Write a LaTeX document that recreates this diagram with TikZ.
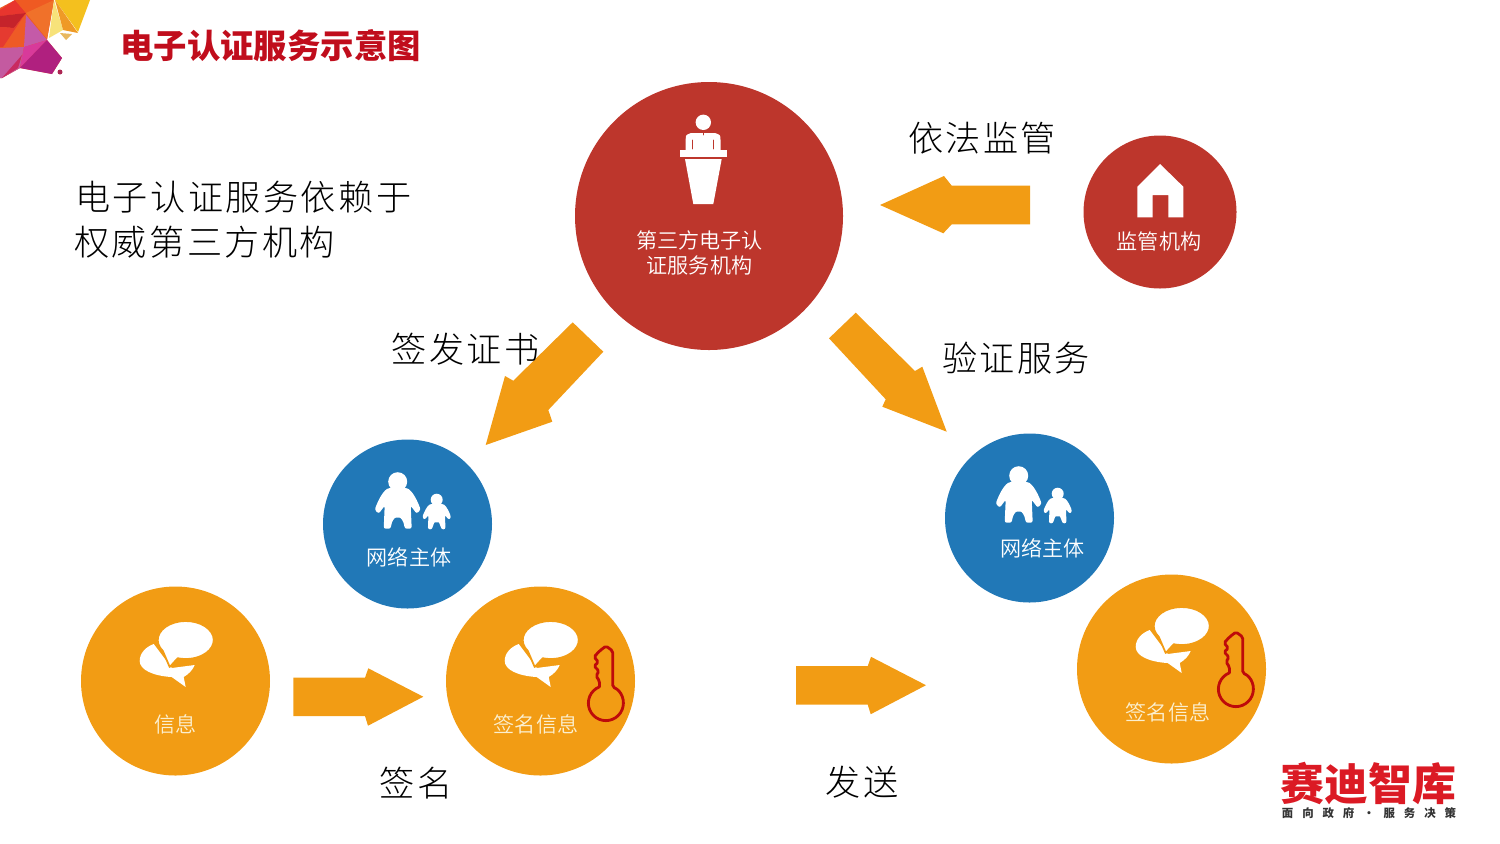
\documentclass[tikz,border=0pt]{standalone}
\usepackage{fontspec}
\usepackage{xcolor}
\usetikzlibrary{arrows.meta}
\setmainfont{Noto Sans CJK SC}
\newfontfamily\cjklight[LetterSpace=7]{Noto Sans CJK SC Light}
\newfontfamily\cjkinner{Noto Sans CJK SC DemiLight}
\newfontfamily\cjkwide[LetterSpace=78]{Noto Sans CJK SC}
\definecolor{sealred}{HTML}{BD362C}
\definecolor{netblue}{HTML}{2178B7}
\definecolor{signorange}{HTML}{F29C14}
\definecolor{keyred}{HTML}{BE0A0A}
\definecolor{titlered}{HTML}{C00D1C}
\definecolor{logored}{HTML}{DB1A24}
\definecolor{creamtext}{HTML}{FBEFCF}
\newcommand{\tile}[2]{\definecolor{tilecol}{HTML}{#1}\fill[tilecol] #2 -- cycle;}
\tikzset{
  bigdisc/.style={circle,inner sep=0pt,minimum size=#1*0.02cm},
  innertext/.style={inner sep=0pt,align=center,font=\fontsize{12}{14.5}\selectfont\cjkinner},
  labeltext/.style={inner sep=0pt,anchor=center,font=\fontsize{20}{24}\selectfont\cjklight},
  bodytext/.style={inner sep=0pt,anchor=west,font=\fontsize{20}{24}\selectfont\cjklight},
  person/.pic={
    \fill[white] (0,0) circle (9.5);
    \fill[white,rounded corners=1.2pt] (-9,6) .. controls (-16,11) and (-20,20) .. (-23,28)
      -- (-19,32) -- (-13,24) -- (-14,47) -- (-7,47) .. controls (-6,39) and (-3,36) .. (0,36)
      .. controls (3,36) and (6,39) .. (7,47) -- (14,47) -- (13,24) -- (19,32) -- (23,28)
      .. controls (20,20) and (16,11) .. (9,6) -- cycle;
  },
  family/.pic={
    \pic at (0,0) {person};
    \pic[scale=0.63] at (39,18) {person};
  },
  chat/.pic={
    \fill[white] (-32,4) .. controls (-40,7) and (-46,13) .. (-46,21)
      .. controls (-46,30) and (-32,36) .. (-14,37) -- (0,47) -- (-2,37)
      .. controls (3,34) and (7,30) .. (9,25) -- (-14,28) -- cycle;
    \filldraw[white,draw=signorange,line width=1pt] (-22.9,10.9)
      arc[start angle=145,delta angle=321.6,x radius=28,y radius=19] -- (-16,27) -- cycle;
  },
  brasskey/.pic={
    \draw[keyred,line width=1.6pt,rounded corners=1pt] (-6.5,-17) -- (-6.5,-23) -- (-10,-28) -- (-7,-33) -- (-12,-38) -- (-7.5,-42)
      -- (-12,-47) -- (-6.5,-53) -- (0,-58) -- (6.7,-53) -- (6.7,-17)
      arc[start angle=-67,delta angle=314,radius=17.5];
  },
}
\begin{document}
\begin{tikzpicture}[line cap=round,line join=round,x=0.02cm,y=-0.02cm]
\useasboundingbox (0,0) rectangle (1500,843);
% corner logo
\tile{EE5A26}{(0,8) -- (15,0) -- (54,0) -- (47,40) -- (62,58) -- (52,74) -- (20,68) -- (2,78) -- (0,78)}
\tile{E8352E}{(0,10) -- (15,0) -- (26,13) -- (0,16)}
\tile{C5232B}{(0,16) -- (26,13) -- (14,28) -- (0,27)}
\tile{E53A30}{(0,27) -- (14,28) -- (25,14) -- (3,47) -- (0,47)}
\tile{EF5A22}{(15,0) -- (54,0) -- (26,13)}
\tile{F0712A}{(26,13) -- (54,0) -- (47,39)}
\tile{C45AA8}{(26,15) -- (47,40) -- (24,47)}
\tile{F7E27A}{(54,0) -- (63,30) -- (49,38)}
\tile{F4C01E}{(55,0) -- (90,0) -- (78,32)}
\tile{EF9A26}{(55,0) -- (78,33) -- (63,30)}
\tile{E8B860}{(60,33) -- (72,34) -- (66,40)}
\tile{C45AA0}{(0,48) -- (24,47) -- (20,68) -- (2,78) -- (0,78)}
\tile{D83A9A}{(24,47) -- (47,40) -- (20,68)}
\tile{B0207F}{(47,40) -- (62,58) -- (52,74) -- (20,68)}
\tile{C92A60}{(2,78) -- (22,55) -- (18,68)}
\fill[color=purple!70!gray] (60,72) circle (2.5);
\node[inner sep=0pt,anchor=west,text=titlered,font=\fontsize{19}{22}\selectfont\bfseries] (pagetitle) at (120,46) {电子认证服务示意图};
\node[bodytext] (bodyone) at (75,197) {电子认证服务依赖于};
\node[bodytext] (bodytwo) at (74,242) {权威第三方机构};
% discs
\node[bigdisc=268,fill=sealred] (thirdparty) at (709,216) {};
\node[bigdisc=153,fill=sealred] (regulator) at (1160,212) {};
\node[bigdisc=169,fill=netblue] (netleft) at (407.5,524) {};
\node[bigdisc=169,fill=netblue] (netright) at (1029.5,518) {};
\node[bigdisc=189,fill=signorange] (message) at (175.5,681) {};
\node[bigdisc=189,fill=signorange] (signleft) at (540.5,681) {};
\node[bigdisc=189,fill=signorange] (signright) at (1171.5,669) {};
% block arrows
\fill[signorange] (880,205) -- (944,176) -- (951.7,185.7) -- (1030,185.7) -- (1030,224.3) -- (951.7,224.3) -- (943.3,233.3) -- cycle;
\fill[signorange] (485.7,445) -- (505,376) -- (513.3,380.7) -- (572.7,322.3) -- (603.3,351.7) -- (548.3,410) -- (552.3,421.7) -- cycle;
\fill[signorange] (855.7,312.7) -- (829,338.3) -- (885.7,399.3) -- (882.3,406.7) -- (946.7,431.7) -- (922.3,366.7) -- (915,371) -- cycle;
\foreach \dx/\dy in {0/0,502.7/-11.5}
\fill[signorange,shift={(\dx,\dy)}] (293.3,677.7) -- (365,677.7) -- (368.3,668.3) -- (423.3,696.7) -- (368,725.7) -- (365,716) -- (293.3,716) -- cycle;
% podium
\fill[white] (703.3,122.3) circle (7.7);
\fill[white] (685.7,151) -- (685.7,140) .. controls (685.7,135) .. (691,133) -- (715,133) .. controls (720.5,135) .. (720.5,140) -- (720.5,151) -- cycle;
\draw[sealred,line width=0.4pt] (692.7,140) -- (692.7,149) (713.3,140) -- (713.3,149) (703.3,132) -- (703.3,135);
\fill[white] (680,150) rectangle (726.7,156.7);
\fill[white] (685,159) -- (721.7,159) -- (713.3,204) -- (693.3,204) -- cycle;
% house
\fill[white] (1160,164) -- (1183.3,186.7) -- (1183.3,217.3) -- (1168.3,217.3) -- (1168.3,195) -- (1152.7,195) -- (1152.7,217.3) -- (1137.3,217.3) -- (1137.3,186.7) -- cycle;
% icons
\pic at (397.7,481.7) {family};
\pic at (1018.7,475.7) {family};
\foreach \x/\y in {185.7/640,550.7/640,1181.7/626}
\pic at (\x,\y) {chat};
\pic at (606,704) {brasskey};
\pic at (1236,690) {brasskey};
% texts in discs
\node[innertext,text=white] (thirdtext) at (699.5,253) {第三方电子认\\证服务机构};
\node[innertext,text=white] (regtext) at (1159,241) {监管机构};
\node[innertext,text=white] (netlefttext) at (409,557) {网络主体};
\node[innertext,text=white] (netrighttext) at (1042.5,548) {网络主体};
\node[innertext,text=creamtext] (messagetext) at (175.5,724) {信息};
\node[innertext,text=creamtext] (signlefttext) at (536,724) {签名信息};
\node[innertext,text=creamtext] (signrighttext) at (1168,712) {签名信息};
% outside labels
\node[labeltext] (lawlabel) at (982,138) {依法监管};
\node[labeltext] (issuelabel) at (465.5,349) {签发证书};
\node[labeltext] (verifylabel) at (1016,358) {验证服务};
\node[labeltext] (signlabel) at (416,783) {签名};
\node[labeltext] (sendlabel) at (862,782) {发送};
% bottom logo
\node[inner sep=0pt,text=logored,font=\fontsize{25}{28}\selectfont\bfseries] (logomain) at (1368.5,783) {赛迪智库};
\node[inner sep=0pt,text=black!80,font=\fontsize{6.5}{8}\selectfont\cjkwide\bfseries] (logosub) at (1369,813) {面向政府·服务决策};
\end{tikzpicture}
\end{document}
